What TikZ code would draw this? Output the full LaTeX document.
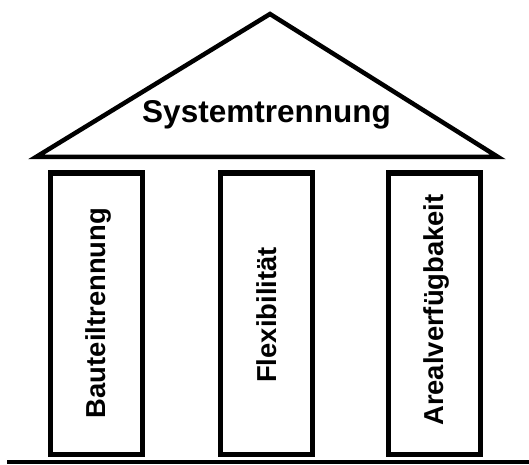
\documentclass[tikz,border=0pt]{standalone}
\usepackage{fontspec}
\setmainfont{Liberation Sans}
\begin{document}
\begin{tikzpicture}[x=1pt,y=1pt,
  line/.style={draw=black,line width=4.5pt},
  pillar/.style={draw=black,line width=5pt,fill=white},
  pillartext/.style={rotate=90,font=\fontsize{27.4}{32}\selectfont\bfseries,inner sep=0pt},
  rooftext/.style={font=\fontsize{31.5}{36}\selectfont\bfseries,inner sep=0pt,anchor=base}]
\useasboundingbox (0,0) rectangle (529,464);
% roof
\coordinate (apex) at (270,450);
\coordinate (rl) at (36,307);
\coordinate (rr) at (498,307);
\draw[line,line join=miter] (rl) -- (apex) -- (rr) -- cycle;
\node[rooftext] (roof) at (266.5,341) {Systemtrennung};
% pillars
\draw[pillar] (50.5,10) rectangle (142.5,291);
\draw[pillar] (220.5,10) rectangle (312.5,291);
\draw[pillar] (388.5,10) rectangle (480.5,291);
\node[pillartext] (p1) at (98,151) {Bauteiltrennung};
\node[pillartext] (p2) at (267,149) {Flexibilität};
\node[pillartext] (p3) at (436,154) {Arealverfügbakeit};
% ground
\coordinate (g1) at (7,2);
\coordinate (g2) at (529,2);
\draw[line,line width=4pt] (g1) -- (g2);
\end{tikzpicture}
\end{document}
